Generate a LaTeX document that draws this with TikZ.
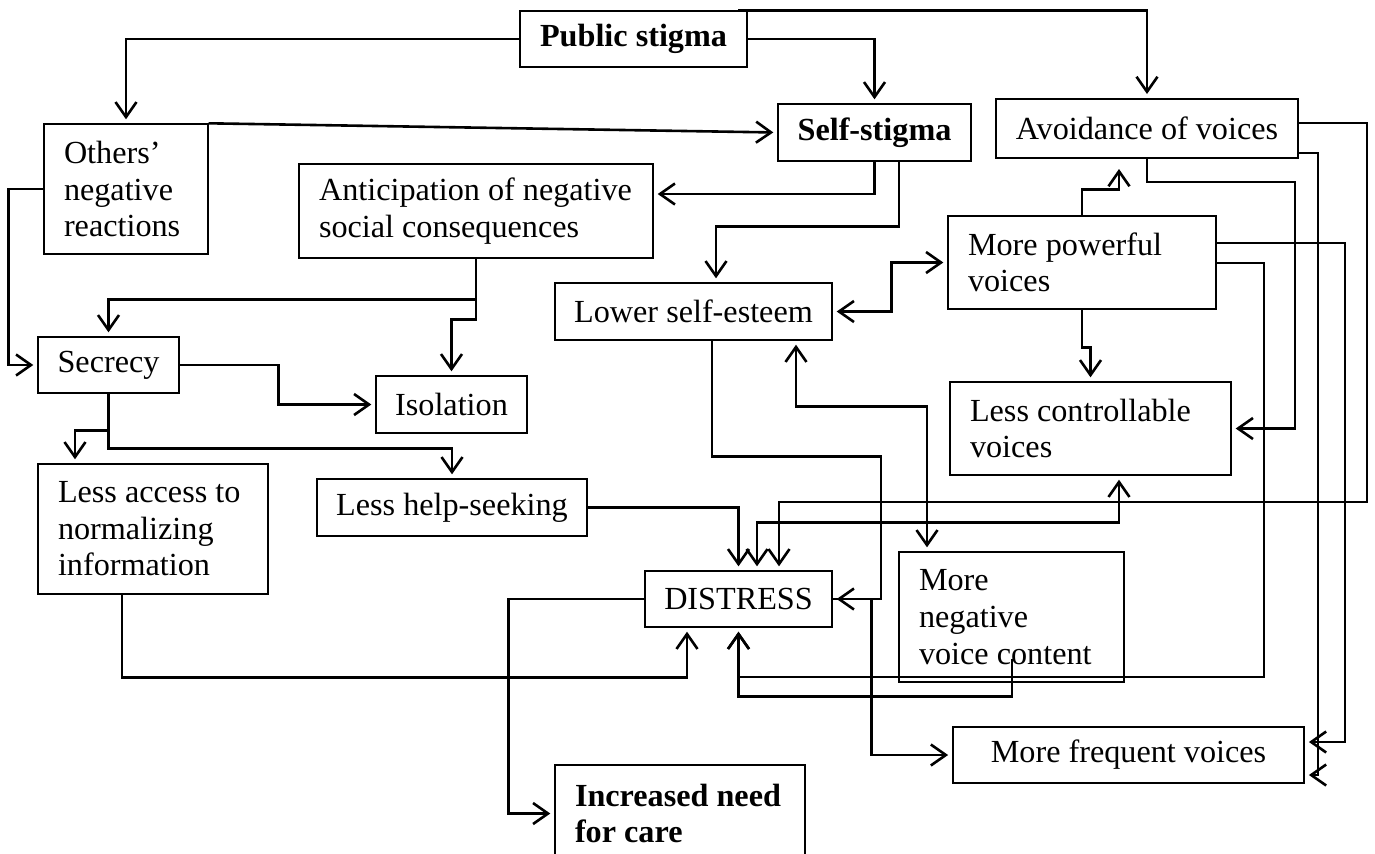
\documentclass[tikz,border=0pt]{standalone}
\usepackage{fontspec}
\setmainfont{Liberation Serif}
\usetikzlibrary{arrows.meta}
\begin{document}
\begin{tikzpicture}[x=0.5pt,y=-0.5pt,
  font=\fontsize{16.1}{18.3}\selectfont,
  boldtxt/.style={font=\fontsize{16.1}{18.3}\selectfont\bfseries},
  box/.style={draw, line width=0.7pt, inner sep=0pt},
  mbox/.style={draw, line width=0.7pt, inner xsep=10pt, inner ysep=0pt, align=flush left},
  conn/.style={line width=1.3pt},
  arr/.style={conn, -{Straight Barb[length=7.5pt,width=10.5pt]}, shorten >=2pt},
  darr/.style={conn, {Straight Barb[length=7.5pt,width=10.5pt]}-{Straight Barb[length=7.5pt,width=10.5pt]}, shorten >=2pt, shorten <=2pt}]

\useasboundingbox (0,0) rectangle (1375,853);
\fill[white] (0,0) rectangle (1375,853);

% boxes
\node[box, boldtxt, minimum width=113.5pt, minimum height=28pt] (pub) at (633.5,39) {Public stigma};
\node[mbox, text width=62pt, minimum height=65pt] (others) at (126,189) {Others’\\negative\\reactions};
\node[box, boldtxt, minimum width=96.5pt, minimum height=28.5pt] (self) at (874.5,132.5) {Self-stigma};
\node[box, line width=1pt, minimum width=151pt, minimum height=29.5pt] (avoid) at (1147,128.5) {Avoidance of voices};
\node[mbox, text width=157pt, minimum height=47pt] (antic) at (476,211) {Anticipation of negative\\social consequences};
\node[box, minimum width=138.5pt, minimum height=28.5pt] (lower) at (693.5,311.5) {Lower self-esteem};
\node[mbox, text width=114pt, minimum height=46.5pt] (power) at (1082,262.5) {More powerful\\voices};
\node[box, minimum width=70.5pt, minimum height=28pt] (secrecy) at (108.5,365) {Secrecy};
\node[box, minimum width=75.5pt, minimum height=28.5pt] (isol) at (451.5,404.5) {Isolation};
\node[mbox, text width=120.5pt, minimum height=46.5pt] (lessctrl) at (1090.5,428.5) {Less controllable\\voices};
\node[mbox, text width=95pt, minimum height=65pt] (access) at (153,529) {Less access to\\normalizing\\information};
\node[box, minimum width=135pt, minimum height=28.5pt] (help) at (452,507.5) {Less help-seeking};
\node[box, minimum width=93.5pt, minimum height=28pt] (distress) at (738.5,599) {DISTRESS};
\node[mbox, text width=92.5pt, minimum height=65pt] (neg) at (1011.5,617) {More\\negative\\voice content};
\node[box, line width=0.9pt, minimum width=175.5pt, minimum height=28pt] (freq) at (1128.5,755) {More frequent voices};
\node[mbox, boldtxt, text width=105pt, minimum height=48.5pt] (care) at (680,813.5) {Increased need\\for care};

% connectors
\draw[arr] (pub.west) -| (others.north);
\draw[arr] (pub.east) -| (self.north);
\draw[arr] (pub.north -| 738,0) -| (avoid.north);
\draw[arr] (others.north east) -- (self.west);
\draw[arr] (others.west) -- ++(-35,0) |- (secrecy.west);
\draw[arr] (antic.south) -- ++(0,41) -| (secrecy.north);
\draw[arr] (antic.south) -- ++(0,61) -| (isol.north);
\draw[arr] (secrecy.east) -- ++(99,0) |- (isol.west);
\draw[arr] (secrecy.south) -- ++(0,37) -| (access.north -| 75,0);
\draw[arr] (secrecy.south) -- ++(0,55) -| (help.north);
\draw[arr] (help.east) -| (distress.north);
\draw[darr] (distress.north -| 757,0) -- ++(0,-48) -| (lessctrl.south -| 1119,0);
\draw[arr] (avoid.east |- 0,123) -| (1367,502) -| (distress.north -| 779,0);
\draw[arr] (self.south) |- (antic.east |- 0,194);
\draw[arr] (self.south -| 899,0) -- ++(0,65) -| (lower.north -| 716,0);
\draw[arr, shorten >=5pt] (power.north) -- ++(0,-26) -| (avoid.south -| 1119,0);
\draw[darr] (lower.east) -- ++(59,0) |- (power.west);
\draw[arr] (power.south) -- ++(0,38) -| (lessctrl.north);
\draw[arr] (avoid.south) -- ++(0,23) -| (lessctrl.east -| 1295,0) -- (lessctrl.east);
\draw[arr] (avoid.east |- 0,153) -| (1318,775) -- (freq.east |- 0,775);
\draw[arr] (power.east |- 0,243) -| (1345,742) -- (freq.east |- 0,742);
\draw[arr] (power.east |- 0,263) -| (1264,677) -| (distress.south);
\draw[arr] ([xshift=0.25pt,yshift=12pt]neg.south) -- ++(0,38) -| (distress.south);
\draw[arr] (access.south -| 122,0) -- ++(0,83) -| (distress.south -| 687,0);
\draw[arr] (distress.west) -- ++(-136,0) |- (care.west);
\draw[arr] (lower.south -| 712,0) -- ++(0,116) -| (distress.east -| 881,0) -- (distress.east);
\draw[arr] (distress.east) -- ++(39,0) |- (freq.west);
\draw[darr] (lower.south -| 796,0) -- ++(0,66) -| (neg.north -| 927,0);
\end{tikzpicture}
\end{document}
